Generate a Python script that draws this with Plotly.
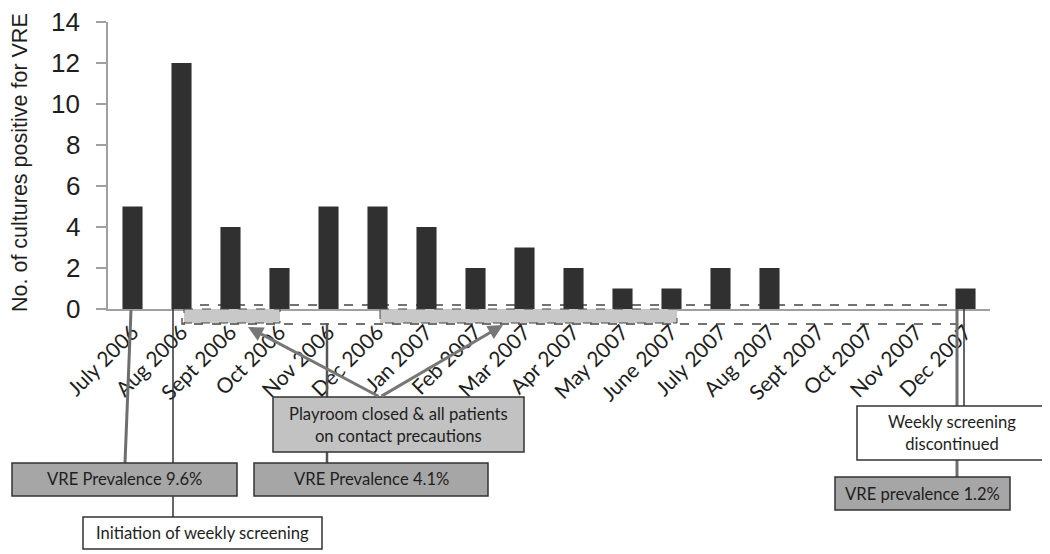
import plotly.graph_objects as go

months = ["July 2006", "Aug 2006", "Sept 2006", "Oct 2006", "Nov 2006", "Dec 2006",
          "Jan 2007", "Feb 2007", "Mar 2007", "Apr 2007", "May 2007", "June 2007",
          "July 2007", "Aug 2007", "Sept 2007", "Oct 2007", "Nov 2007", "Dec 2007"]
counts = [5, 12, 4, 2, 5, 5, 4, 2, 3, 2, 1, 1, 2, 2, 0, 0, 0, 1]
y_ticks = [0, 2, 4, 6, 8, 10, 12, 14]

W, H = 1050, 554
OFF = 8  # page body margin
# plot area in screenshot pixels: x 108..990, y 22..309
SX0, SX1, SY0, SY1 = 108, 990, 22, 309
L, T = SX0 - OFF, SY0 - OFF
R = W - (SX1 - OFF)
B = H - (SY1 - OFF)
PW, PH = SX1 - SX0, SY1 - SY0

def px(x):
    return (x - SX0) / PW

def py(y):
    return (SY1 - y) / PH

fig = go.Figure()
fig.add_trace(go.Bar(x=months, y=counts, marker=dict(color="#303030", line=dict(width=0)),
                     width=0.41))

TXT = "Lato"
shapes = []
annotations = []

def line(x0, y0, x1, y1, color, width, dash="solid", layer="above"):
    shapes.append(dict(type="line", xref="paper", yref="paper", x0=px(x0), y0=py(y0),
                       x1=px(x1), y1=py(y1), line=dict(color=color, width=width, dash=dash),
                       layer=layer))

def rect(x0, y0, x1, y1, fill, lc="#333333", lw=1.5, dash="solid", layer="above"):
    shapes.append(dict(type="rect", xref="paper", yref="paper", x0=px(x0), y0=py(y0),
                       x1=px(x1), y1=py(y1), fillcolor=fill,
                       line=dict(color=lc, width=lw, dash=dash), layer=layer))

def box(x0, y0, x1, y1, fill, text):
    rect(x0, y0, x1, y1, fill)
    annotations.append(dict(xref="paper", yref="paper", x=px((x0 + x1) / 2), y=py((y0 + y1) / 2),
                            text=text, showarrow=False, xanchor="center", yanchor="middle",
                            font=dict(family=TXT, size=16.6, color="#1e1e1e")))

# dashed band beneath the axis
rect(182, 305, 957, 324, "rgba(0,0,0,0)", lc="#444444", lw=1.3, dash="dash", layer="below")
rect(184, 309, 280, 323, "#c8c8c8", lc="#444444", lw=1.0, dash="dash")
rect(380, 309, 677, 323, "#c8c8c8", lc="#444444", lw=1.0, dash="dash")

# connector lines
line(131, 310, 125, 463, "#6e6e6e", 3)
line(173, 309, 173, 517, "#333333", 1.5)
line(327, 323, 327, 463, "#555555", 2.5)
line(957, 309, 957, 477, "#6e6e6e", 3)
line(964, 309, 964, 406, "#333333", 1.5)

# boxes
box(12, 463, 237, 496, "#a6a6a6", "VRE Prevalence 9.6%")
box(254, 463, 488, 496, "#a6a6a6", "VRE Prevalence 4.1%")
box(83, 517, 322, 549, "#ffffff", "Initiation of weekly screening")
box(273, 397, 524, 452, "#c2c2c2", "Playroom closed & all patients<br>on contact precautions")
box(857, 406, 1047, 460, "#ffffff", "Weekly screening<br>discontinued")
box(835, 477, 1010, 510, "#a6a6a6", "VRE prevalence 1.2%")

# arrows from playroom box
for hx, hy in [(248, 327), (503, 325)]:
    annotations.append(dict(xref="paper", yref="paper", x=px(hx), y=py(hy), text="",
                            showarrow=True, ax=380 - hx, ay=397 - hy, arrowhead=2,
                            arrowsize=1, arrowwidth=3, arrowcolor="#777777"))

# y tick labels placed on the y scale
for v in y_ticks:
    annotations.append(dict(xref="paper", yref="y", x=px(81), y=v, text=str(v),
                            showarrow=False, xanchor="right", yanchor="middle", borderpad=0,
                            font=dict(family="Liberation Sans, Arial", size=26, color="#1e1e1e")))

# y-axis title
annotations.append(dict(xref="paper", yref="paper", x=px(20), y=py(163),
                        text="No. of cultures positive for VRE", textangle=-90, showarrow=False,
                        xanchor="center", yanchor="middle", borderpad=0,
                        font=dict(family="Liberation Sans, Arial", size=21.5, color="#1e1e1e")))

fig.update_layout(
    template="none",
    width=W, height=H,
    margin=dict(l=L, r=R, t=T, b=B, autoexpand=False),
    plot_bgcolor="white", paper_bgcolor="white",
    showlegend=False,
    shapes=shapes, annotations=annotations,
    xaxis=dict(range=[-0.5, 17.5], showline=True, linecolor="#a0a0a0", linewidth=1.5,
               showgrid=False, ticks="", tickangle=-45, automargin=False,
               ticklabelstandoff=1, ticklabeloverflow="allow",
               tickfont=dict(family=TXT, size=21, color="#1e1e1e"), zeroline=False),
    yaxis=dict(range=[0, 14], tickvals=y_ticks, showline=True, linecolor="#a0a0a0",
               linewidth=1.5, showgrid=False, ticks="outside", ticklen=10, tickcolor="#a0a0a0",
               tickwidth=1.5, automargin=False, zeroline=False, showticklabels=False),
)

fig.write_html("out.html")
